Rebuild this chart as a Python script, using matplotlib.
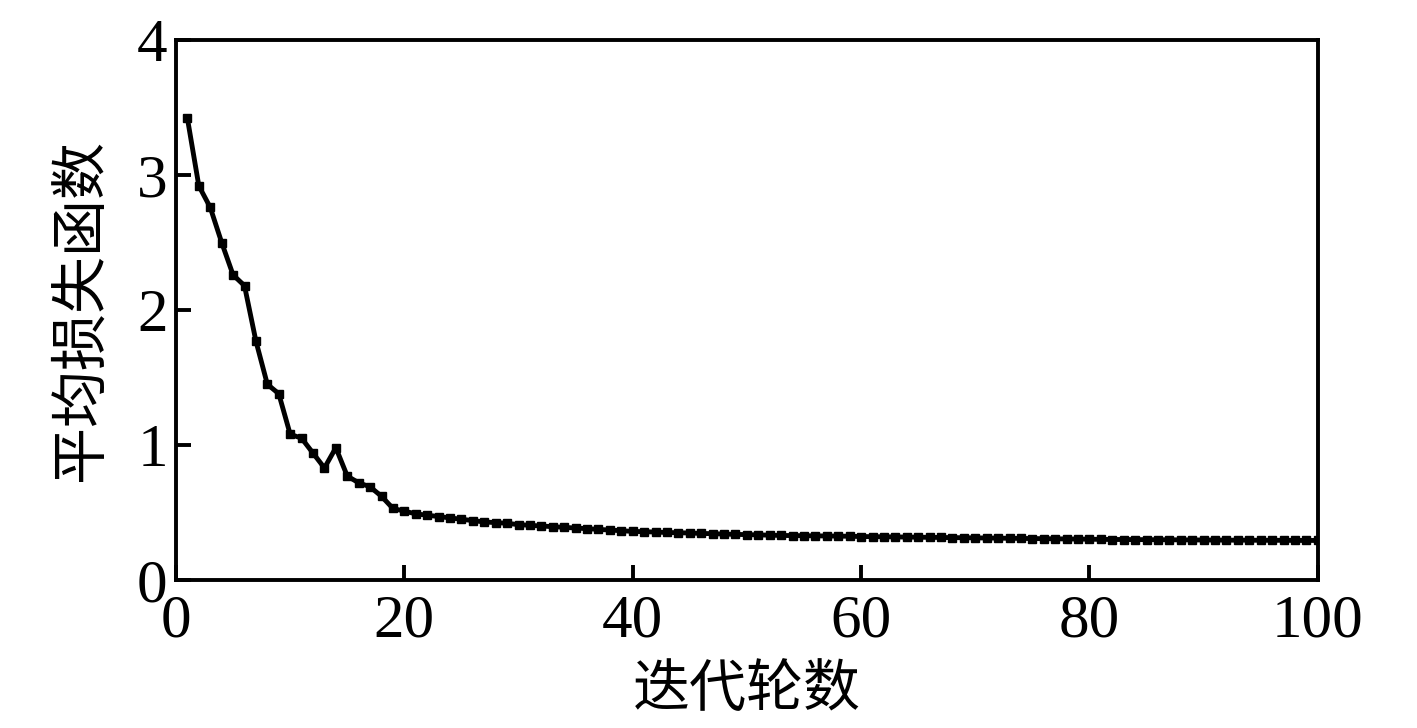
import numpy as np
import matplotlib.pyplot as plt

plt.rcParams['font.family'] = ['Liberation Serif', 'Noto Sans CJK SC']
plt.rcParams['xtick.direction'] = 'in'
plt.rcParams['ytick.direction'] = 'in'

# 迭代轮数 1..100
epochs = list(range(1, 101))

# 平均损失函数
loss_early = [3.42, 2.92, 2.76, 2.50, 2.26, 2.18, 1.77, 1.45, 1.38, 1.08,
              1.05, 0.94, 0.83, 0.98, 0.77, 0.72, 0.69, 0.62, 0.53]
loss_20_40 = [0.51, 0.49, 0.48, 0.47, 0.46, 0.45, 0.44, 0.43, 0.425, 0.42,
              0.41, 0.405, 0.40, 0.395, 0.39, 0.385, 0.38, 0.375, 0.37, 0.365, 0.36]
loss_41_60 = [0.358, 0.355, 0.352, 0.35, 0.348, 0.345, 0.343, 0.34, 0.338, 0.336,
              0.334, 0.332, 0.330, 0.329, 0.328, 0.327, 0.326, 0.325, 0.324, 0.322]
loss_61_80 = [0.321, 0.320, 0.319, 0.318, 0.317, 0.316, 0.315, 0.314, 0.313, 0.312,
              0.311, 0.310, 0.309, 0.308, 0.307, 0.306, 0.305, 0.304, 0.303, 0.302]
loss_81_100 = [0.301, 0.300, 0.300, 0.299, 0.299, 0.298, 0.298, 0.297, 0.297, 0.296,
               0.296, 0.295, 0.295, 0.295, 0.294, 0.294, 0.294, 0.293, 0.293, 0.293]
loss = loss_early + loss_20_40 + loss_41_60 + loss_61_80 + loss_81_100

xticks = [0, 20, 40, 60, 80, 100]
yticks = [0, 1, 2, 3, 4]

fig = plt.figure(figsize=(14.17, 7.28), dpi=100)
ax = fig.add_axes([0.1242, 0.2033, 0.8058, 0.7417])

ax.plot(epochs, loss, color='black', lw=3.5, marker='s', markersize=5.5)

ax.set_xlim(0, 100)
ax.set_ylim(0, 4)
ax.set_xticks(xticks)
ax.set_yticks(yticks)
ax.tick_params(labelsize=44, length=11, width=2.8, top=False, right=False)
ax.tick_params(axis='x', pad=10)
ax.tick_params(axis='y', pad=6)
for s in ax.spines.values():
    s.set_linewidth(2.8)

ax.set_xlabel('迭代轮数', fontsize=41, family=['Noto Sans CJK SC'], labelpad=8)
ax.set_ylabel('平均损失函数', fontsize=41, family=['Noto Sans CJK SC'], labelpad=20)

fig.savefig('out.png', dpi=100)
